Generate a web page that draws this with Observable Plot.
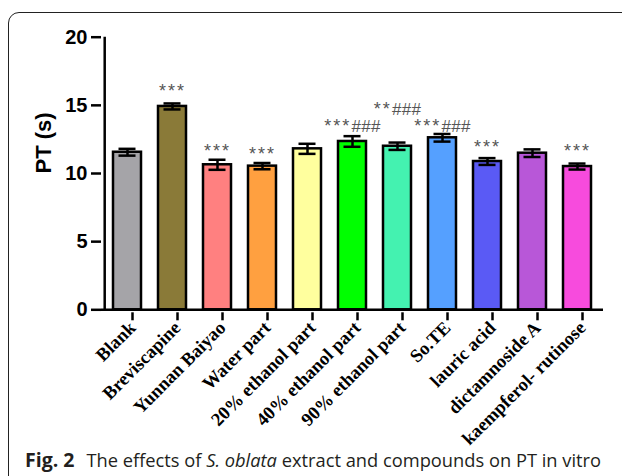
<!DOCTYPE html>
<html><head><meta charset="utf-8">
<script src="https://cdn.jsdelivr.net/npm/d3@7"></script>
<script src="https://cdn.jsdelivr.net/npm/@observablehq/plot@0.6"></script>
<style>
body{margin:0;background:#fff;}
#wrap{position:relative;width:622px;height:476px;overflow:hidden;background:#fff}
#chart{position:absolute;left:0;top:0}
#frame{position:absolute;left:8px;top:12px;width:700px;height:600px;border:1.3px solid #222;border-top-left-radius:11px;box-sizing:border-box;pointer-events:none}
#cap{position:absolute;left:25px;top:448px;font-family:"Open Sans";font-size:18.3px;line-height:24px;color:#231f20;white-space:nowrap}
#cap b{font-size:19.5px;margin-right:12px}
</style></head>
<body>
<div id="wrap"><div id="chart"></div><div id="frame"></div>
<div id="cap"><b>Fig. 2</b>The effects of <i>S. oblata</i> extract and compounds on PT in vitro</div></div>
<script>
const categories = ["Blank","Breviscapine","Yunnan Baiyao","Water part","20% ethanol part","40% ethanol part","90% ethanol part","So.TE","lauric acid","dictamnoside A","kaempferol- rutinose"];
const means = [11.56, 14.92, 10.64, 10.54, 11.81, 12.35, 12.0, 12.62, 10.88, 11.49, 10.51];
const errors = [0.25, 0.22, 0.37, 0.23, 0.37, 0.39, 0.27, 0.28, 0.25, 0.28, 0.22];
const colors = ["#a5a4a8","#8a7a38","#ff8080","#ffa040","#ffff9e","#00ff00","#44f2b0","#55a0ff","#5a5af5","#b857d8","#f74bdd"];
const annotCats = ["Breviscapine","Yunnan Baiyao","Water part","40% ethanol part","90% ethanol part","So.TE","lauric acid","kaempferol- rutinose"];
const annotText = ["***","***","***","***###","**###","***###","***","***"];
const annotY = [15.58, 11.2, 11.0, 13.07, 14.3, 13.07, 11.5, 11.2];
const yTicks = [0,5,10,15,20];

const data = categories.map((c,i)=>({name:c, mean:means[i], lo:means[i]-errors[i], hi:means[i]+errors[i]}));
const ann = annotCats.map((c,i)=>({name:c, label:annotText[i], y:annotY[i]}));

const chart = Plot.plot({
  width: 622, height: 476,
  marginLeft: 101, marginRight: 19, marginTop: 36.7, marginBottom: 166.7,
  style: {background: "transparent"},
  x: {domain: categories, range: [101.2, 602.8], paddingInner: 0.375, paddingOuter: 0.1875},
  y: {domain: [0, 20]},
  color: {domain: categories, range: colors},
  marks: [
    Plot.barY(data, {x: "name", y: "mean", fill: "name", stroke: "black", strokeWidth: 2.5}),
    Plot.ruleX(data, {x: "name", y1: "lo", y2: "hi", stroke: "black", strokeWidth: 2.5}),
    Plot.tickY(data, {x: "name", y: "hi", stroke: "black", strokeWidth: 2.5, insetLeft: 5.5, insetRight: 5.5}),
    Plot.tickY(data, {x: "name", y: "lo", stroke: "black", strokeWidth: 2.5, insetLeft: 5.5, insetRight: 5.5}),
    Plot.text(ann, {x: "name", y: "y", text: "label", lineAnchor: "bottom", fill: "#555", fontSize: 17, fontFamily: "Liberation Sans"}),
    Plot.ruleY([0], {stroke: "black", strokeWidth: 2.5}),
    Plot.ruleX([categories[0]], {y1: 0, y2: 20, dx: -22.8, stroke: "black", strokeWidth: 2.5}),
    Plot.axisY({ticks: yTicks, tickSize: 10, tickPadding: 4, strokeWidth: 2.5, fontSize: 20, fontWeight: "bold", fontFamily: "Liberation Sans", label: null}),
    Plot.axisX({tickSize: 8, tickPadding: 4, tickRotate: -45, strokeWidth: 2.5, fontSize: 18.5, fontWeight: "bold", fontFamily: "Liberation Serif", label: null, dx: 5, dy: 3}),
    Plot.text(["PT (s)"], {frameAnchor: "left", rotate: -90, dx: -58, fontSize: 22, fontWeight: "bold", fontFamily: "Liberation Sans", fill: "black"})
  ]
});
document.getElementById("chart").appendChild(chart);
// space the asterisks and hashes like the original typography
d3.select(chart).selectAll('g[aria-label="text"]').filter((d,i)=>i===0).selectAll("text").each(function(){
  const t = d3.select(this);
  const s = t.text();
  const stars = s.replace(/#/g, "");
  const hashes = s.replace(/\*/g, "");
  t.text(null);
  t.append("tspan").style("letter-spacing", "2px").style("font-size", "18px").text(stars);
  if (hashes) t.append("tspan").style("letter-spacing", "0.3px").text(hashes);
});
</script>
</body></html>
